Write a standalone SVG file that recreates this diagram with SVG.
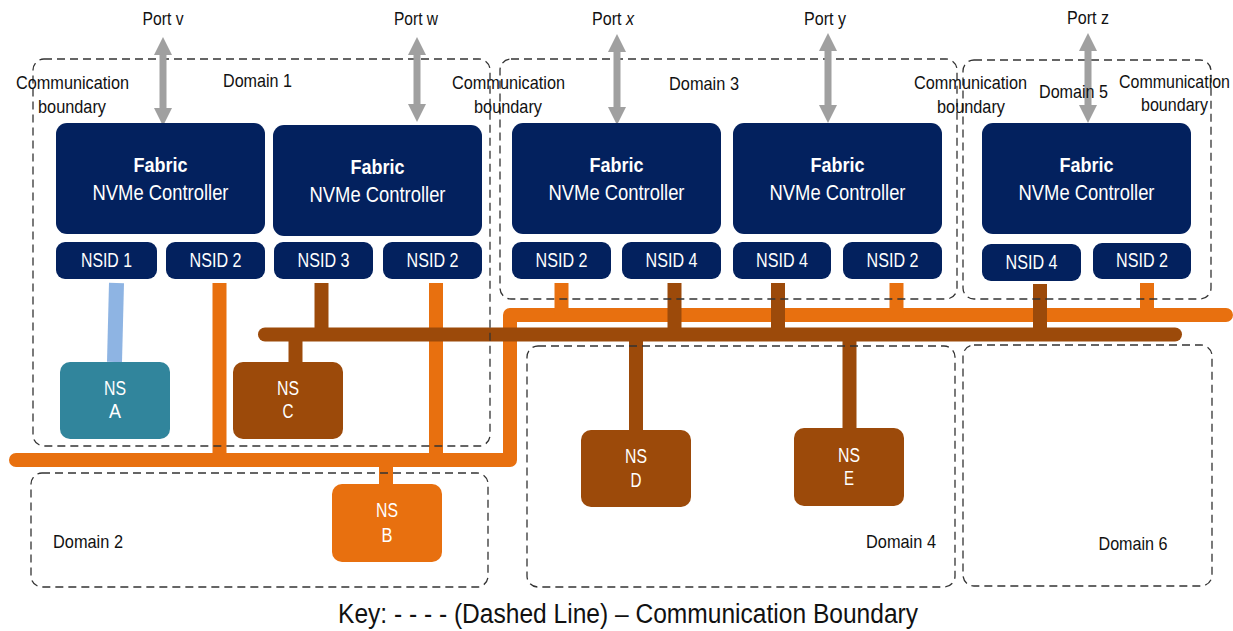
<svg xmlns="http://www.w3.org/2000/svg" width="1233" height="631" viewBox="0 0 1233 631">
<style>
.ctrl{fill:#03215E}
.nsid{fill:#03215E}
.wt{fill:#fff;font-family:"Liberation Sans",Arial,sans-serif;text-anchor:middle}
.fab{font-size:21px;font-weight:bold}
.nvme{font-size:21.5px}
.sm{font-size:20px}
.ns{font-size:19.5px}
.lbl{fill:#111;font-family:"Liberation Sans",Arial,sans-serif;font-size:19px;text-anchor:middle}
.dom{fill:none;stroke:#333;stroke-width:1.3;stroke-dasharray:8 5}
.arr{fill:#A0A0A0}
.or{stroke:#E8700F;stroke-width:14;fill:none}
.br{stroke:#9C4A0A;stroke-width:14;fill:none}
.lb{stroke:#8EB4E3;stroke-width:15;fill:none}
</style>

<g id="connectors">
  <path class="or" d="M16 460 H510 V315 H1226" stroke-linejoin="round" stroke-linecap="round"/>
  <line class="or" x1="219.5" y1="283" x2="219.5" y2="460"/>
  <line class="or" x1="436" y1="283" x2="436" y2="460"/>
  <line class="or" x1="386" y1="460" x2="386" y2="486"/>
  <line class="or" x1="561.5" y1="283" x2="561.5" y2="315"/>
  <line class="or" x1="896.5" y1="283" x2="896.5" y2="315"/>
  <line class="or" x1="1147" y1="283" x2="1147" y2="315"/>
  <line class="lb" x1="116.5" y1="283" x2="114.5" y2="362"/>
  <line class="br" x1="265" y1="334.5" x2="1175" y2="334.5" stroke-linecap="round"/>
  <line class="br" x1="321.5" y1="283" x2="321.5" y2="334"/>
  <line class="br" x1="295.5" y1="334" x2="295.5" y2="363"/>
  <line class="br" x1="674.5" y1="283" x2="674.5" y2="341"/>
  <line class="br" x1="778" y1="283" x2="778" y2="341"/>
  <line class="br" x1="1040" y1="284" x2="1040" y2="334"/>
  <line class="br" x1="636" y1="334" x2="636" y2="431"/>
  <line class="br" x1="849.5" y1="334" x2="849.5" y2="429"/>
</g>

<g id="domains">
  <rect class="dom" x="33" y="59" width="457" height="387" rx="11"/>
  <rect class="dom" x="31" y="473" width="457" height="114" rx="11"/>
  <rect class="dom" x="500" y="59" width="457" height="240" rx="11"/>
  <rect class="dom" x="963" y="60" width="248" height="239" rx="11"/>
  <rect class="dom" x="527" y="346" width="428" height="241" rx="11"/>
  <rect class="dom" x="963" y="345" width="249" height="241" rx="11"/>
</g>

<g id="ports">
  <polygon class="arr" points="163,37 172,55 166.5,55 166.5,108 172,108 163,126 154,108 159.5,108 159.5,55 154,55"/>
  <polygon class="arr" points="417,37 426,55 420.5,55 420.5,104 426,104 417,122 408,104 413.5,104 413.5,55 408,55"/>
  <polygon class="arr" points="617,34 626,52 620.5,52 620.5,107 626,107 617,125 608,107 613.5,107 613.5,52 608,52"/>
  <polygon class="arr" points="828,33 837,51 831.5,51 831.5,105 837,105 828,123 819,105 824.5,105 824.5,51 819,51"/>
  <polygon class="arr" points="1088,33 1097,51 1091.5,51 1091.5,105 1097,105 1088,123 1079,105 1084.5,105 1084.5,51 1079,51"/>
  <text class="lbl" x="163" y="25" textLength="41" lengthAdjust="spacingAndGlyphs">Port v</text>
  <text class="lbl" x="416" y="25" textLength="44" lengthAdjust="spacingAndGlyphs">Port w</text>
  <text class="lbl" x="613" y="25" textLength="42" lengthAdjust="spacingAndGlyphs">Port <tspan font-style="italic">x</tspan></text>
  <text class="lbl" x="825" y="25" textLength="42" lengthAdjust="spacingAndGlyphs">Port y</text>
  <text class="lbl" x="1088" y="24" textLength="42" lengthAdjust="spacingAndGlyphs">Port z</text>
</g>

<g id="labels">
  <text class="lbl" x="72.5" y="89" textLength="113" lengthAdjust="spacingAndGlyphs">Communication</text>
  <text class="lbl" x="72" y="113" textLength="68" lengthAdjust="spacingAndGlyphs">boundary</text>
  <text class="lbl" x="508.5" y="89" textLength="113" lengthAdjust="spacingAndGlyphs">Communication</text>
  <text class="lbl" x="508" y="113" textLength="68" lengthAdjust="spacingAndGlyphs">boundary</text>
  <text class="lbl" x="970.5" y="89" textLength="113" lengthAdjust="spacingAndGlyphs">Communication</text>
  <text class="lbl" x="971" y="113" textLength="68" lengthAdjust="spacingAndGlyphs">boundary</text>
  <text class="lbl" x="1174.5" y="88" textLength="111" lengthAdjust="spacingAndGlyphs">Communication</text>
  <text class="lbl" x="1174.5" y="111" textLength="67" lengthAdjust="spacingAndGlyphs">boundary</text>
  <text class="lbl" x="257.5" y="87" textLength="69" lengthAdjust="spacingAndGlyphs">Domain 1</text>
  <text class="lbl" x="88" y="548" textLength="70" lengthAdjust="spacingAndGlyphs">Domain 2</text>
  <text class="lbl" x="704" y="90" textLength="70" lengthAdjust="spacingAndGlyphs">Domain 3</text>
  <text class="lbl" x="901" y="548" textLength="70" lengthAdjust="spacingAndGlyphs">Domain 4</text>
  <text class="lbl" x="1073.5" y="98" textLength="69" lengthAdjust="spacingAndGlyphs">Domain 5</text>
  <text class="lbl" x="1133" y="550" textLength="69" lengthAdjust="spacingAndGlyphs">Domain 6</text>
</g>

<g id="ctrl1">
  <rect class="ctrl" x="56" y="123" width="209" height="111" rx="11"/>
  <text class="wt fab" x="160.5" y="172" textLength="54" lengthAdjust="spacingAndGlyphs">Fabric</text>
  <text class="wt nvme" x="160.5" y="200" textLength="136" lengthAdjust="spacingAndGlyphs">NVMe Controller</text>
  <rect class="nsid" x="56" y="242" width="101" height="37" rx="9"/>
  <text class="wt sm" x="106.5" y="267" textLength="51" lengthAdjust="spacingAndGlyphs">NSID 1</text>
  <rect class="nsid" x="166" y="242" width="99" height="37" rx="9"/>
  <text class="wt sm" x="215.5" y="267" textLength="52" lengthAdjust="spacingAndGlyphs">NSID 2</text>
</g>

<g id="ctrl2">
  <rect class="ctrl" x="273" y="125" width="209" height="111" rx="11"/>
  <text class="wt fab" x="377.5" y="174" textLength="54" lengthAdjust="spacingAndGlyphs">Fabric</text>
  <text class="wt nvme" x="377.5" y="202" textLength="136" lengthAdjust="spacingAndGlyphs">NVMe Controller</text>
  <rect class="nsid" x="274" y="242" width="99" height="37" rx="9"/>
  <text class="wt sm" x="323.5" y="267" textLength="52" lengthAdjust="spacingAndGlyphs">NSID 3</text>
  <rect class="nsid" x="383" y="242" width="99" height="37" rx="9"/>
  <text class="wt sm" x="432.5" y="267" textLength="52" lengthAdjust="spacingAndGlyphs">NSID 2</text>
</g>

<g id="ctrl3">
  <rect class="ctrl" x="512" y="123" width="209" height="111" rx="11"/>
  <text class="wt fab" x="616.5" y="172" textLength="54" lengthAdjust="spacingAndGlyphs">Fabric</text>
  <text class="wt nvme" x="616.5" y="200" textLength="136" lengthAdjust="spacingAndGlyphs">NVMe Controller</text>
  <rect class="nsid" x="512" y="242" width="99" height="37" rx="9"/>
  <text class="wt sm" x="561.5" y="267" textLength="52" lengthAdjust="spacingAndGlyphs">NSID 2</text>
  <rect class="nsid" x="622" y="242" width="99" height="37" rx="9"/>
  <text class="wt sm" x="671.5" y="267" textLength="52" lengthAdjust="spacingAndGlyphs">NSID 4</text>
</g>

<g id="ctrl4">
  <rect class="ctrl" x="733" y="123" width="209" height="111" rx="11"/>
  <text class="wt fab" x="837.5" y="172" textLength="54" lengthAdjust="spacingAndGlyphs">Fabric</text>
  <text class="wt nvme" x="837.5" y="200" textLength="136" lengthAdjust="spacingAndGlyphs">NVMe Controller</text>
  <rect class="nsid" x="733" y="242" width="98" height="37" rx="9"/>
  <text class="wt sm" x="782" y="267" textLength="52" lengthAdjust="spacingAndGlyphs">NSID 4</text>
  <rect class="nsid" x="843" y="242" width="99" height="37" rx="9"/>
  <text class="wt sm" x="892.5" y="267" textLength="52" lengthAdjust="spacingAndGlyphs">NSID 2</text>
</g>

<g id="ctrl5">
  <rect class="ctrl" x="982" y="123" width="209" height="111" rx="11"/>
  <text class="wt fab" x="1086.5" y="172" textLength="54" lengthAdjust="spacingAndGlyphs">Fabric</text>
  <text class="wt nvme" x="1086.5" y="200" textLength="136" lengthAdjust="spacingAndGlyphs">NVMe Controller</text>
  <rect class="nsid" x="982" y="244" width="99" height="37" rx="9"/>
  <text class="wt sm" x="1031.5" y="269" textLength="52" lengthAdjust="spacingAndGlyphs">NSID 4</text>
  <rect class="nsid" x="1093" y="243" width="98" height="36" rx="9"/>
  <text class="wt sm" x="1142" y="267" textLength="52" lengthAdjust="spacingAndGlyphs">NSID 2</text>
</g>

<g id="nsA">
  <rect x="60" y="362" width="110" height="77" rx="10" fill="#31859C"/>
  <text class="wt ns" x="115" y="395" textLength="22" lengthAdjust="spacingAndGlyphs">NS</text>
  <text class="wt ns" x="115" y="418" textLength="12" lengthAdjust="spacingAndGlyphs">A</text>
</g>
<g id="nsB">
  <rect x="332" y="484" width="110" height="78" rx="10" fill="#E8700F"/>
  <text class="wt ns" x="387" y="517" textLength="22" lengthAdjust="spacingAndGlyphs">NS</text>
  <text class="wt ns" x="387" y="542" textLength="11" lengthAdjust="spacingAndGlyphs">B</text>
</g>
<g id="nsC">
  <rect x="233" y="362" width="110" height="77" rx="10" fill="#9C4A0A"/>
  <text class="wt ns" x="288" y="395" textLength="22" lengthAdjust="spacingAndGlyphs">NS</text>
  <text class="wt ns" x="288" y="418" textLength="11" lengthAdjust="spacingAndGlyphs">C</text>
</g>
<g id="nsD">
  <rect x="581" y="430" width="110" height="77" rx="10" fill="#9C4A0A"/>
  <text class="wt ns" x="636" y="463" textLength="22" lengthAdjust="spacingAndGlyphs">NS</text>
  <text class="wt ns" x="636" y="487" textLength="11" lengthAdjust="spacingAndGlyphs">D</text>
</g>
<g id="nsE">
  <rect x="794" y="428" width="110" height="78" rx="10" fill="#9C4A0A"/>
  <text class="wt ns" x="849" y="462" textLength="22" lengthAdjust="spacingAndGlyphs">NS</text>
  <text class="wt ns" x="849" y="485" textLength="10" lengthAdjust="spacingAndGlyphs">E</text>
</g>

<text x="628" y="623" font-family="'Liberation Sans',Arial,sans-serif" font-size="27" fill="#111" text-anchor="middle" textLength="580" lengthAdjust="spacingAndGlyphs">Key: - - - - (Dashed Line) – Communication Boundary</text>
</svg>
